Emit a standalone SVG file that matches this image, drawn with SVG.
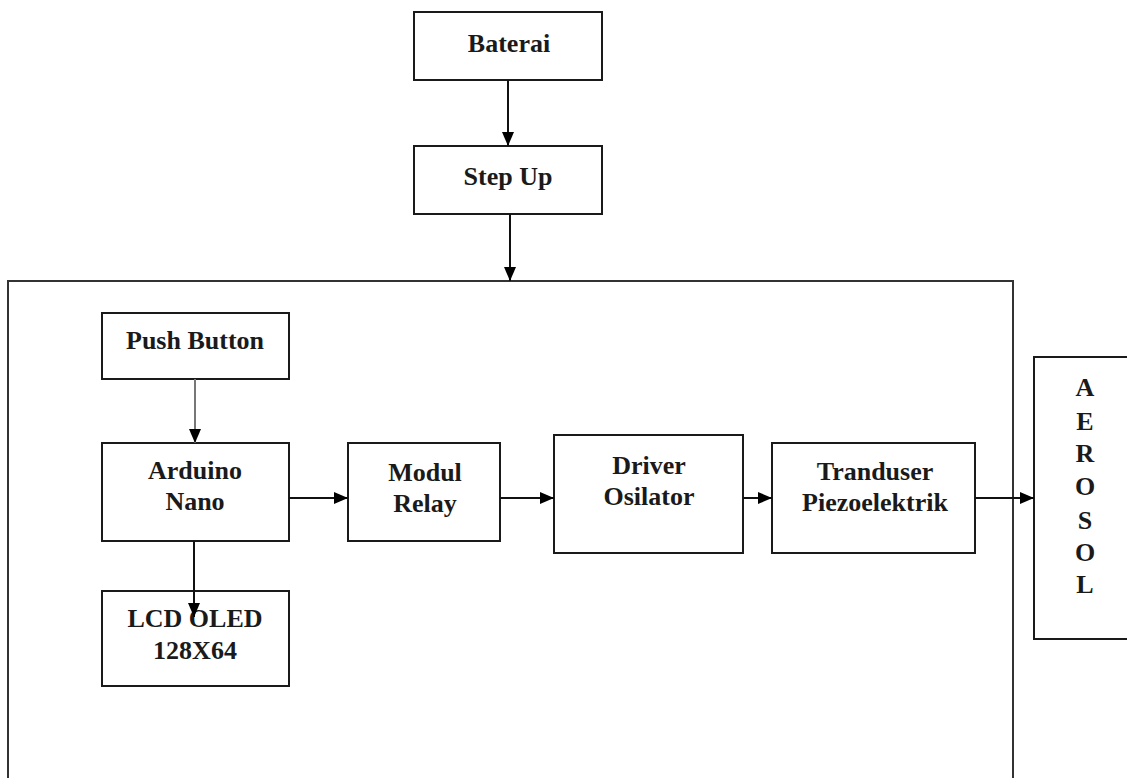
<svg xmlns="http://www.w3.org/2000/svg" width="1127" height="778" viewBox="0 0 1127 778">
<style>
.box{fill:#fff;stroke:#1a1a1a;stroke-width:2}
.outer{fill:none;stroke:#333;stroke-width:2}
.lbl{font-family:"Liberation Serif","Times New Roman",serif;font-weight:bold;font-size:26px;fill:#1a1a1a;text-anchor:middle}
.con{stroke:#111;stroke-width:2;fill:none}
.gray{stroke:#777}
</style>
<defs>
<marker id="ah" markerUnits="userSpaceOnUse" viewBox="0 0 14 12" refX="14" refY="6" markerWidth="14" markerHeight="12" orient="auto">
<path d="M0,0 L14,6 L0,12 z" fill="#000"/>
</marker>
</defs>
<rect width="1127" height="778" fill="#fff"/>
<g id="system">
<rect class="outer" x="8" y="281" width="1005" height="520"/>
</g>
<g id="baterai">
<rect class="box" x="414" y="12" width="188" height="68"/>
<text class="lbl" x="509" y="52">Baterai</text>
</g>
<g id="stepup">
<rect class="box" x="414" y="146" width="188" height="68"/>
<text class="lbl" x="508" y="185">Step Up</text>
</g>
<g id="pushbutton">
<rect class="box" x="102" y="313" width="187" height="66"/>
<text class="lbl" x="195" y="349">Push Button</text>
</g>
<g id="arduino">
<rect class="box" x="102" y="443" width="187" height="98"/>
<text class="lbl" x="195" y="479">Arduino</text>
<text class="lbl" x="195" y="510">Nano</text>
</g>
<g id="lcd">
<rect class="box" x="102" y="591" width="187" height="95"/>
<text class="lbl" x="195" y="627">LCD OLED</text>
<text class="lbl" x="195" y="659">128X64</text>
</g>
<g id="relay">
<rect class="box" x="348" y="443" width="152" height="98"/>
<text class="lbl" x="425" y="481">Modul</text>
<text class="lbl" x="425" y="512">Relay</text>
</g>
<g id="driver">
<rect class="box" x="554" y="435" width="189" height="118"/>
<text class="lbl" x="649" y="474">Driver</text>
<text class="lbl" x="649" y="505">Osilator</text>
</g>
<g id="tranduser">
<rect class="box" x="772" y="443" width="203" height="110"/>
<text class="lbl" x="875" y="480">Tranduser</text>
<text class="lbl" x="875" y="511">Piezoelektrik</text>
</g>
<g id="aerosol">
<rect class="box" x="1034" y="357" width="110" height="282"/>
<text class="lbl" x="1085" y="396">A</text>
<text class="lbl" x="1085" y="430">E</text>
<text class="lbl" x="1085" y="462">R</text>
<text class="lbl" x="1085" y="495">O</text>
<text class="lbl" x="1085" y="529">S</text>
<text class="lbl" x="1085" y="561">O</text>
<text class="lbl" x="1085" y="593">L</text>
</g>
<g id="connectors">
<line class="con" x1="508" y1="80" x2="508" y2="146" marker-end="url(#ah)"/>
<line class="con" x1="510" y1="214" x2="510" y2="281" marker-end="url(#ah)"/>
<line class="con gray" x1="195" y1="379" x2="195" y2="443" marker-end="url(#ah)"/>
<line class="con" x1="194" y1="541" x2="194" y2="617" marker-end="url(#ah)"/>
<line class="con" x1="289" y1="498" x2="348" y2="498" marker-end="url(#ah)"/>
<line class="con" x1="500" y1="498" x2="554" y2="498" marker-end="url(#ah)"/>
<line class="con" x1="743" y1="498" x2="772" y2="498" marker-end="url(#ah)"/>
<line class="con" x1="975" y1="498" x2="1034" y2="498" marker-end="url(#ah)"/>
</g>
</svg>
